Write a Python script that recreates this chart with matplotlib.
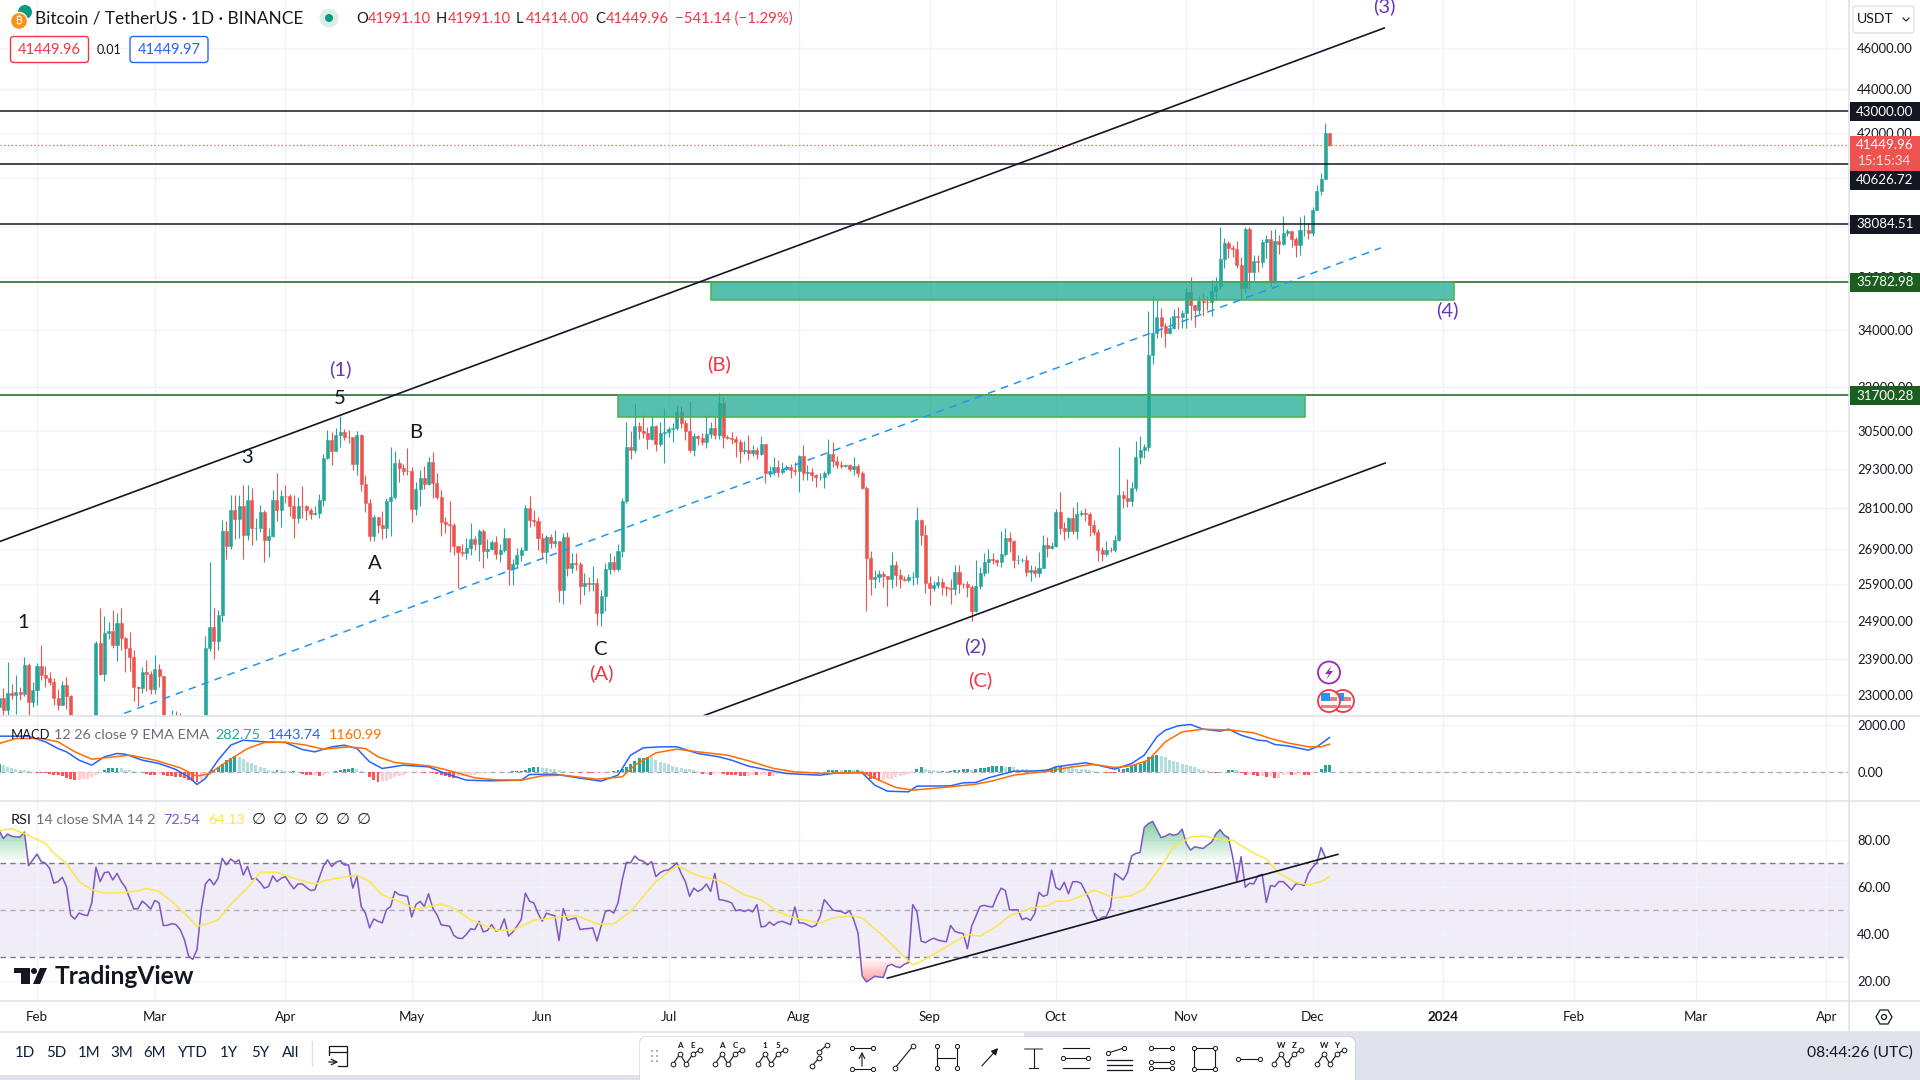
#!/usr/bin/env python3
"""BTC/USDT daily TradingView layout with MACD and RSI panes."""
import matplotlib
matplotlib.use("Agg")
import matplotlib.pyplot as plt
import numpy as np
import pandas as pd
from matplotlib.patches import Circle, FancyBboxPatch, Polygon, Rectangle
from matplotlib.path import Path
from matplotlib.ticker import FixedLocator, FixedFormatter, NullLocator

plt.rcParams["font.family"] = ["Lato", "DejaVu Sans"]

first_date = "2023-01-23"  # first visible candle
origin = pd.Timestamp("2023-02-01")

close = [22917, 22632, 23060, 23009, 23074, 23022, 23742, 22826, 23125,
         23733, 23488, 23431, 23326, 22932, 22762, 23240, 22963, 21796, 21625, 21862, 21783, 21773, 22199,
         24324, 23517, 24569, 24631, 24271, 24837, 24439, 24188, 23947, 23198, 23175, 23561, 23522, 23147,
         23646, 23475, 22362, 22354, 22435, 22409, 22197, 21705, 20363, 20187, 20632, 22163, 24197, 24746,
         24375, 25055, 27423, 26965, 28038, 27767, 28175, 27307, 28333, 27493, 27494, 27994, 27139, 27268,
         28348, 28033, 28478,
         28465, 28171, 27800, 28175, 28165, 28037, 27925, 27947, 28333, 29653, 30235, 29884, 30399, 30485,
         30318, 30315, 29445, 30397, 28822, 28245, 27262, 27817, 27591, 27514, 28307, 28422, 29473, 29340,
         29248, 29233,
         28068, 28669, 29026, 28838, 29506, 28848, 28430, 27668, 27628, 27598, 26968, 26804, 26784, 26930,
         27171, 27036, 27403, 26821, 26890, 27102, 26747, 26851, 27225, 26334, 26476, 26719, 26868, 28085,
         27745, 27702, 27219,
         26819, 27249, 27069, 27115, 25728, 27230, 26339, 26498, 26477, 25841, 25925, 25902, 25918, 25124,
         25578, 26327, 26510, 26336, 26840, 28307, 29994, 29892, 30688, 30527, 30462, 30267, 30693, 30078,
         30447, 30472,
         30585, 30617, 31156, 30767, 30514, 29895, 30348, 30292, 30171, 30414, 30620, 30380, 31454, 30312,
         30289, 30249, 30145, 29856, 29913, 29792, 29908, 29771, 30083, 29176, 29228, 29354, 29212, 29314,
         29352, 29281, 29232,
         29705, 29186, 29193, 29113, 29042, 29042, 29182, 29765, 29561, 29429, 29397, 29415, 29283, 29408,
         29170, 28701, 26622, 26049, 26096, 26189, 26124, 26040, 26431, 26163, 26047, 26004, 26089, 26106,
         27728, 27299, 25940,
         25805, 25869, 25969, 25812, 25779, 25753, 26240, 25905, 25895, 25832, 25162, 25840, 26222, 26522,
         26601, 26568, 26530, 26754, 27211, 27133, 26567, 26579, 26579, 26250, 26298, 26217, 26352, 27021,
         26911, 26967,
         27983, 27505, 27429, 27794, 27410, 27931, 27957, 27918, 27586, 27391, 26875, 26756, 26863, 26853,
         27154, 28500, 28395, 28320, 28713, 29669, 29909, 29992, 33086, 33901, 34496, 34151, 33892, 34082,
         34525, 34474, 34639,
         35421, 34938, 34732, 35082, 35049, 35037, 35443, 35655, 36693, 37313, 37138, 37065, 36462, 35551,
         37880, 36164, 36613, 36568, 37360, 37465, 35814, 37410, 37289, 37720, 37796, 37479, 37254, 37832,
         37858, 37723,
         38682, 39457, 39978, 41991.1, 41449.96]
high = [23165, 23180, 23816, 23282, 23500, 23189, 23960, 23789, 23320,
        23812, 24255, 23715, 23583, 23433, 23158, 23350, 23452, 23011, 21906, 21910, 22090, 21900, 22324,
        24380, 25250, 25021, 24877, 25192, 25121, 25250, 24476, 24600, 24132, 23219, 23689, 23880, 23600,
        24000, 23780, 23476, 22420, 22640, 22600, 22550, 22250, 21800, 20368, 20700, 22196, 24500, 26514,
        25250, 25200, 27750, 27725, 28500, 28500, 28500, 28800, 28800, 28700, 27800, 28200, 28040, 27500,
        28650, 29170, 28650,
        28800, 28530, 28500, 28440, 28775, 28180, 28100, 28150, 28530, 29770, 30550, 30480, 30620, 31000,
        30580, 30550, 30310, 30500, 30410, 29100, 28380, 27890, 27820, 28000, 28400, 30000, 29880, 29600,
        29460, 29980,
        29350, 28880, 29270, 29380, 29680, 29850, 29170, 28650, 27840, 28300, 27650, 26980, 27050, 27200,
        27650, 27280, 27480, 27470, 27180, 27150, 27280, 27050, 27500, 27210, 26600, 26930, 26940, 28200,
        28450, 28050, 27830,
        27350, 27300, 27340, 27450, 27130, 27350, 27400, 26780, 26780, 26530, 26210, 26090, 26420, 26080,
        25750, 26480, 26770, 26680, 27040, 28400, 30800, 30500, 31400, 30800, 31040, 30660, 31000, 30700,
        30820, 31280,
        30660, 30790, 31380, 31330, 30880, 31500, 30450, 30400, 30450, 31050, 30810, 30980, 31800, 31640,
        30390, 30470, 30340, 30240, 30190, 30400, 30050, 29990, 30350, 30100, 29380, 29690, 29570, 29520,
        29410, 29450, 29530,
        29740, 30050, 29430, 29320, 29140, 29170, 29250, 30240, 30150, 29700, 29540, 29440, 29470, 29680,
        29470, 29230, 28780, 26840, 26300, 26300, 26260, 26130, 26800, 26550, 26310, 26120, 26180, 26230,
        28140, 27760, 27580,
        26130, 25980, 26120, 26060, 25860, 26040, 26430, 26430, 25940, 25980, 25880, 26570, 26390, 26770,
        26890, 26770, 26620, 27410, 27490, 27380, 27160, 26720, 26640, 26730, 26430, 26400, 26820, 27300,
        27230, 27090,
        28060, 28580, 27670, 27840, 28130, 28290, 28030, 28100, 27990, 27730, 27480, 26950, 27110, 26960,
        27290, 30000, 28610, 28980, 28900, 30200, 30350, 30100, 34700, 35280, 35130, 34820, 34250, 34480,
        34760, 34860, 34720,
        35580, 35980, 34940, 35260, 35380, 35280, 35890, 35980, 37970, 37530, 37410, 37230, 37420, 36760,
        37980, 37960, 36850, 36850, 37500, 37650, 37860, 37890, 37650, 38420, 37880, 37820, 37580, 38390,
        38450, 38150,
        38800, 39700, 40220, 42420, 41991.1]
low = [22500, 22450, 22300, 22892, 22530, 22877, 22985, 22500, 22714,
       22760, 23365, 23200, 23255, 22750, 22628, 22745, 22665, 21688, 21451, 21599, 21630, 21351, 21532,
       22047, 23505, 23339, 24430, 24192, 23840, 24148, 23574, 23600, 22841, 22722, 23059, 23105, 23020,
       23020, 23195, 22000, 22200, 22190, 22257, 21930, 21580, 20042, 19549, 19950, 20450, 21918, 24100,
       23900, 24123, 24880, 26600, 26900, 27170, 27200, 26600, 27160, 27000, 27160, 27400, 26510, 26650,
       27250, 27700, 27540,
       28250, 27870, 27200, 27660, 27815, 27730, 27780, 27880, 27800, 28170, 29600, 29420, 29870, 30000,
       30230, 30120, 29270, 29100, 28630, 27980, 27120, 27130, 27350, 27190, 27200, 27260, 28380, 28900,
       29100, 29100,
       27680, 27880, 28150, 28680, 28800, 28400, 28380, 27280, 27370, 26800, 26710, 25800, 26690, 26600,
       26720, 26850, 26560, 26360, 26630, 26850, 26620, 26530, 26810, 25870, 25870, 26340, 26550, 26860,
       27525, 27560, 26850,
       26600, 26500, 26920, 26950, 25400, 25350, 26120, 26220, 26300, 25350, 25600, 25720, 25710, 24800,
       24760, 25170, 26180, 26280, 26260, 26650, 28260, 29600, 29810, 30270, 30280, 29920, 30220, 29860,
       30040, 29480,
       30310, 30170, 30560, 30630, 30220, 29850, 29710, 30050, 30070, 29950, 30280, 30250, 30250, 29970,
       30250, 30080, 29670, 29500, 29770, 29570, 29720, 29620, 29740, 28860, 29060, 29100, 29060, 29130,
       29260, 29030, 29110,
       28590, 28950, 28950, 28920, 28750, 28960, 28700, 29120, 29350, 29320, 29320, 29350, 29250, 29100,
       29060, 28680, 25170, 25600, 25800, 25970, 25810, 25300, 25800, 25860, 25780, 25980, 25970, 25870,
       25910, 27020, 25650,
       25340, 25720, 25780, 25600, 25570, 25350, 25610, 25650, 25800, 25550, 24900, 25130, 25770, 26130,
       26220, 26470, 26400, 26380, 26680, 26800, 26350, 26460, 26520, 26120, 25990, 26110, 26110, 26340,
       26660, 26890,
       26950, 27330, 27160, 27210, 27340, 27180, 27860, 27720, 27260, 27300, 26540, 26560, 26700, 26810,
       26800, 27110, 28090, 28130, 28170, 28620, 29470, 29660, 29880, 32800, 33700, 33750, 33400, 33850,
       34050, 34050, 34080,
       34090, 34350, 34100, 34590, 34530, 34730, 34520, 35120, 35530, 36330, 36720, 36760, 36340, 35100,
       35360, 35510, 35880, 36200, 36390, 36730, 35630, 35760, 36870, 37250, 37590, 37150, 36750, 36860,
       37620, 37500,
       37620, 38650, 39290, 39980, 41414]
first_open = 22700

price_ticks = [46000, 44000, 42000, 40000, 38000, 36000, 34000, 32000, 30500, 29300, 28100, 26900, 25900, 24900, 23900, 23000]
resistance = [43000.00, 40626.72, 38084.51]
support = [35782.98, 31700.28]
last_price = 41449.96

# trend lines: day offsets from 1 Feb 2023 and prices at the two ends
upper_days, upper_prices = [-8.8, 320], [27111, 46986]
lower_days, lower_prices = [158.4, 320.2], [22497, 29485]
mid_days, mid_prices = [20.7, 319.2], [22551, 37128]
zone_days = [[138.1, 301.1], [160.1, 336.5]]
zone_prices = [[30970, 31700.28], [35120, 35782.98]]
rsi_line_days, rsi_line_vals = [202, 309], [21, 73.7]

wave_text = ["1", "3", "5", "(1)", "A", "4", "B", "C", "(A)", "(B)", "(2)", "(C)", "(4)", "(3)"]
wave_days = [-3.3, 49.9, 72, 72, 80.3, 80.3, 90, 134, 134, 162, 223, 224, 335, 320]
wave_price = [24857, 29665, 31606, 32600, 26482, 25507, 30473, 24150, 23533, 32777, 24226, 23363, 34730, 48107]
wave_color = ["#131722"] * 3 + ["#673ab7"] + ["#131722"] * 4 + ["#f23645", "#f23645", "#673ab7", "#f23645", "#673ab7", "#673ab7"]

macd_days = [-9, -2, 2, 5, 7, 10, 13, 16, 19, 21, 25, 29, 33, 36, 38, 40, 43, 46, 49, 54, 59, 63, 66, 70, 73, 76, 79,
             82, 87, 93, 97, 102, 108, 115, 117, 123, 128, 134, 138, 141, 144, 148, 152, 157, 162, 165, 169, 173,
             178, 186, 190, 196, 199, 202, 207, 209, 217, 220, 223, 226, 232, 236, 240, 242, 249, 252, 256, 260,
             263, 266, 268, 271, 274, 277, 281, 283, 286, 290, 292, 294, 297, 302, 304, 307]
macd_vals = [1503, 1503, 1262, 978, 836, 482, 269, 624, 766, 737, 482, 340, 85, -227, -553, -298, 482, 1120, 1333,
             1262, 1234, 936, 836, 1049, 1120, 978, 411, 128, 269, 199, -85, -369, -397, -369, -128, -113, -255,
             -411, -156, 695, 1007, 1049, 1049, 766, 624, 482, 227, 85, -85, -156, -57, -57, -581, -837, -865,
             -624, -610, -482, -468, -269, 14, 14, 57, 199, 369, 269, 99, 340, 695, 1475, 1758, 1943, 2000, 1801,
             1716, 1801, 1546, 1333, 1305, 1149, 1092, 908, 1049, 1443.74]
signal_days = [-9, -5, 1, 5, 9, 13, 17, 22, 28, 34, 38, 41, 45, 50, 54, 59, 64, 68, 74, 78, 81, 85, 93, 97, 104, 109,
               115, 120, 125, 133, 139, 142, 147, 152, 157, 164, 169, 175, 180, 187, 196, 200, 204, 208, 217, 223,
               227, 232, 240, 246, 251, 256, 260, 264, 268, 272, 277, 284, 289, 293, 297, 302, 305, 307]
signal_vals = [1191, 1404, 1404, 1262, 837, 525, 596, 695, 482, 156, -199, -85, 411, 978, 1234, 1248, 1120, 950, 1049,
               978, 624, 383, 241, 85, -269, -355, -369, -184, -156, -326, -227, 269, 794, 950, 837, 695, 454, 128,
               -14, -85, -28, -369, -681, -794, -652, -539, -397, -156, 14, 199, 298, 170, 241, 482, 1262, 1687, 1801,
               1758, 1645, 1404, 1220, 1049, 1049, 1160.99]
macd_hist = [310, 280, 210, 155, 110, 85, 55, 30,
             -30, -45, -50, -60, -95, -140, -170, -210, -280, -340, -365, -350, -340, -300, -240, -160, -60,
             60, 130, 150, 155, 140, 80, 50, 25, -15, -40, -110, -150, -170, -90, -130, -185, -200, -220, -250,
             -270, -350, -420, -440, -370, -270, -130, 60, 200, 340, 480, 580, 680, 610, 520, 400, 350, 260, 190,
             130, 60, 30, 60, 50, 40, 10, 10, -30, -90, -140, -170, -170, -180, -140, -50, -10, 20, 50, 90, 120,
             150, 100, 40, -30, -250, -370, -430, -410, -400, -310, -250, -190, -130, -60, -20, -30, -40, -50, -40,
             -60, -110, -140, -190, -220, -280, -220, -200, -190, -160, -130, -110, -80, -60, -40, -30, -20, -10,
             -20, 10, 30, 30, 80, 160, 180, 200, 170, 140, 120, 100, 60, 30, -20, -30, -30, -50, -40, -60, -80, -80,
             -70, -40, -10, 30, 50, 110, 180, 300, 430, 560, 590, 620, 600, 490, 410, 370, 300, 240, 190, 160, 120,
             90, 60, 30, -120, -100, -140, -110, -70, -120, -140, -150, -170, -190, -200, -200, -140, -170, -170,
             -150, -190, -190, -110, -100, -70, -70, -50, -40, -30, -30, -20, -15, -15, -10, 50, 70, 70, 60, 60, 65,
             50, 60, 40, -110, -300, -340, -400, -380, -330, -300, -250, -210, -160, -100, -50, 110, 190, 90, 60, 50,
             30, 40, 30, 30, 50, 70, 90, 90, 60, 110, 130, 170, 190, 220, 230, 230, 210, 210, 180, 120, 110, 100, 60,
             30, 20, 50, 90, 120, 190, 220, 190, 170, 160, 120, 100, 90, 60, 20, -20, -40, -60, -70, -80, 90, 120,
             170, 220, 270, 300, 450, 620, 680, 700, 650, 600, 510, 450, 400, 320, 280, 240, 180, 90, 60, 20, -40,
             -50, -40, -5, 60, 70, 50, -60, -130, -100, -170, -210, -210, -250, -210, -270, -270, -170, -110, -140,
             -140, -110, -130, -140, -50, -10, 110, 280, 282.75]

rsi_vals = [83.9, 80.4, 82.3, 81.4, 81.1, 81.1, 83.2, 68.9, 71.3, 73.8, 70.6, 69.9, 67.7, 61.4, 62.1, 63.9, 60, 47.7,
            46.2, 48.7, 48, 47.6, 53, 68.2, 62.1, 65.9, 66.2, 62.8, 65.6, 62.1, 59.7, 55.1, 50.4, 50.6, 53.8, 52.3,
            50.4, 54.1, 53, 43.4, 43.5, 44.2, 43.8, 41.7, 37.5, 30.4, 29, 33.2, 50.1, 61.1, 63.2, 60.7, 63.5, 72,
            69.2, 71.7, 70.3, 71.3, 64.9, 68.5, 63.1, 63.5, 61.7, 59.3, 60, 64.5, 62.1, 63.5, 64.2, 61.4, 59, 61.1,
            61.1, 59.6, 58.3, 58.6, 63.5, 68.5, 71.3, 68.5, 70.3, 71, 69.2, 69.2, 59.3, 64.2, 51.5, 48.7, 42.4, 46.2,
            45.2, 44.5, 50.1, 51.5, 57.9, 56.5, 56.2, 55.8, 47, 52.3, 53.7, 51.5, 56.9, 50.8, 48, 43.7, 43.4, 43.1,
            39.2, 38, 37.9, 39.6, 42, 41.7, 45.2, 40.7, 41.3, 43.8, 41, 41.7, 46.3, 38.9, 40.6, 43.1, 45.9, 57.2, 53.7,
            53, 48.7, 45.2, 48.7, 48, 47.6, 37, 50.6, 45.6, 46.2, 46.6, 41.7, 42, 42.1, 42.4, 36.8, 43.1, 49.4, 49.9,
            48.7, 53, 62.8, 70.3, 70.1, 73, 71.3, 70.8, 69.2, 70.6, 64.2, 65.9, 66.8, 67, 68.5, 70.1, 65.6, 62.1, 55.8,
            59.3,
            57.9, 58.9, 61.1, 57.9, 65.6, 54.4, 54.2, 53.7, 53, 49.7, 50.1, 49.4, 50.1, 49.2, 52.3, 42.8, 43.1, 44.9,
            43.5, 44.8, 45.2, 44.5, 43.8, 51.3, 44.5, 44.5, 43.7, 42.8, 43.4, 47.3, 54.4, 52.3, 50, 49.6, 49.4, 48.5,
            49.7, 45.9, 40.3, 22, 19.4, 20.6, 21.8, 21.5, 21.3, 26.2, 26.9, 25.9, 25.5, 26.9, 27.6, 52.3, 49.4, 36.8,
            36.1, 37.2, 38, 37.2, 36.8, 36.5, 43.4, 41, 40.3, 40, 33.5, 43.1, 47.3, 51.5, 52, 51.5, 51.3, 55.8, 59.3,
            58.3, 50.1, 50.1, 50.1, 45.9, 46.6, 45.6, 48.5, 57.5, 55.8, 56.5, 67, 59.6, 58.6, 61.8, 56.9, 62, 62.1,
            61.4, 57.9, 54.4, 48.7, 45.6, 46.9, 47.3, 51.3, 65.6, 64.2, 62.8, 65.9, 73, 74.1, 74.5, 85.1, 86.8, 87.7,
            84.2, 80.8, 81.4, 82.4, 81.8, 82.3, 84.4, 78.3, 75.5, 76.9, 76.5, 76.2, 77.6, 78.9, 82.3, 84.2, 81.8, 80.8,
            72.7, 62.1, 72.7, 59.7, 61.4, 61.1, 64.5, 65.2, 53.2, 60.4, 60, 62.1, 62.1, 60.4, 58.6, 61.1, 61.1, 60.4,
            65.6, 68.2, 70.1, 76.6, 72.54]
rsi_ma_days = [-9, -6, -3, 0, 2, 4, 7, 10, 13, 16, 21, 24, 26, 29, 32, 35, 38, 41, 43, 46, 50, 53, 57, 61, 66, 69, 76,
               79, 82, 86, 90, 96, 99, 103, 109, 113, 118, 124, 128, 133, 137, 141, 147, 152, 157, 162, 164, 168, 172,
               176, 180, 186, 189, 194, 196, 201, 208, 209, 213, 217, 221, 224, 228, 231, 236, 240, 242, 245, 249,
               251, 256, 260, 263, 267, 270, 274, 277, 282, 284, 289, 292, 295, 299, 302, 305, 307]
rsi_ma_vals = [83.7, 84.6, 82.5, 80, 78.3, 74.1, 69.9, 62.1, 58.6, 57.2, 57.5, 58.2, 59.2, 57.9, 53.7, 48.7, 43.1, 44.5,
               45.9, 52.3, 59.3, 66.1, 66.1, 63.5, 61, 62.8, 64.9, 62.1, 56.5, 53.7, 50.4, 52.5, 50.8, 45.9, 41.4, 41.4,
               45.6, 47, 47.7, 44.1, 44.1, 49.4, 62.1, 68.9, 64.6, 62.5, 60.7, 56.5, 54.4, 49.2, 46.6, 44.5, 46.6, 47.6,
               46.6, 38.9, 26.6, 27.3, 31.1, 35.4, 39.6, 38.9, 43.1, 47.6, 50.8, 51.8, 53.7, 53.9, 56.5, 58.5, 55.1,
               56.1, 59, 68.5, 76.9, 81.1, 81.5, 79.7, 79.7, 74.1, 71.7, 65.6, 61.7, 60.7, 62.1, 64.13]

month_starts = ["2023-02-01", "2023-03-01", "2023-04-01", "2023-05-01", "2023-06-01", "2023-07-01", "2023-08-01",
                "2023-09-01", "2023-10-01", "2023-11-01", "2023-12-01", "2024-01-01", "2024-02-01", "2024-03-01",
                "2024-04-01"]
month_labels = ["Feb", "Mar", "Apr", "May", "Jun", "Jul", "Aug", "Sep", "Oct", "Nov", "Dec", "2024", "Feb", "Mar", "Apr"]
range_buttons = ["1D", "5D", "1M", "3M", "6M", "YTD", "1Y", "5Y", "All"]

INK = "#131722"
UP, DOWN = "#26a69a", "#ef5350"
GRID, EDGE = "#f0f3fa", "#e0e3eb"
YELLOW = "#fbe74a"
W, H = 1920, 1080
PLOT_R = 1849
XLIM = (-8.79, 430.4)

fig = plt.figure(figsize=(W / 100, H / 100), dpi=100, facecolor="white")


def pane(top, bottom):
    ax = fig.add_axes([0, 1 - bottom / H, PLOT_R / W, (bottom - top) / H])
    ax.set_xlim(*XLIM)
    for s in ax.spines.values():
        s.set_visible(False)
    ax.tick_params(length=0, labelsize=9.4, labelcolor=INK, pad=6)
    ax.yaxis.tick_right()
    ax.set_axisbelow(True)
    month_x = (pd.to_datetime(month_starts) - origin).days.values
    ax.set_xticks(month_x)
    ax.set_xticklabels([])
    ax.grid(True, color=GRID, lw=1)
    return ax


# price pane
ax = pane(0, 715.5)
ax.set_yscale("log")
ax.set_ylim(22500, 48418)
ax.yaxis.set_major_locator(FixedLocator(price_ticks))
ax.yaxis.set_major_formatter(FixedFormatter([f"{p:.2f}" for p in price_ticks]))
ax.yaxis.set_minor_locator(NullLocator())

n = len(close)
offset = (pd.Timestamp(first_date) - origin).days
days = np.arange(offset, offset + n)
c = np.array(close, float)
o = np.r_[first_open, c[:-1]]
hi = np.array(high, float)
lo = np.array(low, float)
colors = np.where(c >= o, UP, DOWN)
ax.vlines(days, lo, hi, colors=colors, lw=0.8, zorder=2)
ax.bar(days, np.abs(c - o), bottom=np.minimum(o, c), width=0.72, color=colors, edgecolor=colors, lw=0.4, zorder=3)

for (d0, d1), (p0, p1) in zip(zone_days, zone_prices):
    ax.add_patch(Rectangle((d0, p0), d1 - d0, p1 - p0, facecolor="#22ab94", alpha=0.76, edgecolor="none", zorder=4))
    ax.add_patch(Rectangle((d0, p0), d1 - d0, p1 - p0, facecolor="none", edgecolor="#4caf50", lw=1.1, zorder=5))
for p in resistance:
    ax.axhline(p, color=INK, lw=1.1, zorder=4)
for p in support:
    ax.axhline(p, color="#1b5e20", lw=1.1, zorder=3.5)
ax.axhline(last_price, color=DOWN, lw=0.9, ls=(0, (1, 2)), zorder=4)
ax.plot(upper_days, upper_prices, color=INK, lw=1.2, zorder=5)
ax.plot(lower_days, lower_prices, color=INK, lw=1.2, zorder=5)
ax.plot(mid_days, mid_prices, color="#2196f3", lw=1.1, ls=(0, (5, 4)), zorder=5)
for s, d, p, col in zip(wave_text, wave_days, wave_price, wave_color):
    ax.text(d, p, s, color=col, fontsize=14.6, ha="center", va="center", zorder=6, clip_on=False)

# MACD pane
ax_m = pane(715.5, 800.5)
ax_m.set_ylim(-1234, 2383)
ax_m.set_yticks([2000, 0])
ax_m.set_yticklabels(["2000.00", "0.00"])
ax_m.axhline(0, color="#787b86", lw=0.9, ls=(0, (4, 3)), alpha=0.6, zorder=1)
h = np.array(macd_hist, float)
hd = np.arange(offset, offset + len(h))
prev = np.r_[h[0], h[:-1]]
hc = np.where(h >= 0, np.where(h >= prev, "#26a69a", "#b2dfdb"), np.where(h < prev, "#ff5252", "#ffcdd2"))
ax_m.bar(hd, h, width=0.7, color=hc, zorder=2)
ax_m.plot(macd_days, macd_vals, color="#2962ff", lw=1.1, zorder=3)
ax_m.plot(signal_days, signal_vals, color="#ff6d00", lw=1.1, zorder=3)

# RSI pane
ax_r = pane(800.5, 1000.5)
ax_r.set_ylim(11.5, 96.6)
ax_r.set_yticks([80, 60, 40, 20])
ax_r.set_yticklabels(["80.00", "60.00", "40.00", "20.00"])
ax_r.axhspan(30, 70, facecolor="#7e57c2", alpha=0.11, lw=0, zorder=0.5)
for lvl, a in [(70, 1.0), (50, 0.55), (30, 1.0)]:
    ax_r.axhline(lvl, color="#787b86", lw=1, ls=(0, (4, 3)), alpha=a, zorder=1)
rsi = np.array(rsi_vals, float)
rd = np.arange(offset, offset + len(rsi))
fine_x = np.linspace(rd[0], rd[-1], 4000)
fine_y = np.interp(fine_x, rd, rsi)


def gradient_fill(y_far, y_near, rgb, mask):
    # colour fades from y_far to y_near and is cut to the area between level and RSI line
    grad = np.zeros((64, 2, 4))
    grad[..., :3] = rgb
    grad[..., 3] = np.linspace(0.55, 0.0, 64)[:, None]
    im = ax_r.imshow(grad, extent=[XLIM[0], XLIM[1], min(y_far, y_near), max(y_far, y_near)],
                     origin="upper" if y_far > y_near else "lower", aspect="auto", zorder=1.5)
    poly = ax_r.fill_between(fine_x, y_near, fine_y, where=mask, facecolor="none", lw=0)
    im.set_clip_path(Path.make_compound_path(*poly.get_paths()), transform=ax_r.transData)


gradient_fill(88, 70, (0.1, 0.65, 0.3), fine_y > 70)
gradient_fill(19, 30, (1.0, 0.3, 0.3), fine_y < 30)
ax_r.set_xlim(*XLIM)
ax_r.set_ylim(11.5, 96.6)
ax_r.plot(rd, rsi, color="#7e57c2", lw=1.1, zorder=3)
ax_r.plot(rsi_ma_days, rsi_ma_vals, color=YELLOW, lw=1.1, zorder=3)
ax_r.plot(rsi_line_days, rsi_line_vals, color=INK, lw=1.2, zorder=4)
ax_r.set_xticklabels(month_labels)
ax_r.tick_params(axis="x", pad=7.5, labelsize=9.6)
ax_r.get_xticklabels()[11].set_fontweight("bold")

# interface overlay, in screen pixels
ov = fig.add_axes([0, 0, 1, 1], zorder=10)
ov.set_xlim(0, W)
ov.set_ylim(H, 0)
ov.axis("off")


def txt(x, y, s, color=INK, px=13, ha="left", weight="normal"):
    ov.text(x, y, s, color=color, fontsize=px * 0.72, ha=ha, va="center", fontweight=weight)


def box(x0, y0, x1, y1, **kw):
    ov.add_patch(Rectangle((x0, y0), x1 - x0, y1 - y0, **kw))


for y in (715.5, 800.5, 1000.5, 1031.5):
    ov.plot([0, W], [y, y], color=EDGE, lw=1.2)
ov.plot([PLOT_R, PLOT_R], [0, 1031], color=EDGE, lw=1.2)

# price tags on the scale
for top, bot, s, col in [(102, 121, "43000.00", INK), (171, 190, "40626.72", INK), (215, 234, "38084.51", INK),
                         (273, 292, "35782.98", "#1b5e20"), (386, 405, "31700.28", "#1b5e20")]:
    box(1850, top, W, bot, facecolor=col, edgecolor="none")
    txt(1885, (top + bot) / 2, s, "white", 13.4, "center")
box(1850, 136, W, 170.5, facecolor=DOWN, edgecolor="none")
txt(1885, 145, "41449.96", "white", 13.4, "center")
txt(1885, 161, "15:15:34", "#ffe0e0", 13.4, "center")
ov.add_patch(FancyBboxPatch((1853, 6), 61, 27, boxstyle="round,pad=0,rounding_size=3", facecolor="white", edgecolor=EDGE, lw=1))
txt(1857, 19, "USDT", INK, 14)
ov.plot([1903, 1906, 1909], [18, 21, 18], color=INK, lw=0.8)

# symbol header
ov.add_patch(Circle((25, 12), 7, facecolor="#089981", edgecolor="none"))
ov.add_patch(Circle((19, 21), 8.5, facecolor="#f7931a", edgecolor="white", lw=1))
ov.text(19, 21.5, "₿", color="white", fontsize=7.5, ha="center", va="center",
        family=["Inter", "Noto Sans", "Roboto", "Open Sans", "DejaVu Sans"])
txt(35, 18, "Bitcoin / TetherUS · 1D · BINANCE", INK, 17.2)
ov.add_patch(Circle((329, 18), 9.5, facecolor="#daeeea", edgecolor="none"))
ov.add_patch(Circle((329, 18), 4, facecolor="#089981", edgecolor="none"))
for x, s, col in [(356, "O", INK), (368, "41991.10", "#f23645"), (436, "H", INK), (448, "41991.10", "#f23645"),
                  (516, "L", INK), (526, "41414.00", "#f23645"), (595, "C", INK), (606, "41449.96", "#f23645")]:
    txt(x, 19, s, col, 14.8)
txt(675, 19, "−541.14 (−1.29%)", "#f23645", 15)
ov.add_patch(FancyBboxPatch((10.5, 36.5), 78, 26, boxstyle="round,pad=0,rounding_size=3", facecolor="white", edgecolor="#f23645", lw=1))
txt(49.5, 49.5, "41449.96", "#f23645", 14.8, "center")
txt(109, 50, "0.01", INK, 12.5, "center")
ov.add_patch(FancyBboxPatch((130, 36.5), 78, 26, boxstyle="round,pad=0,rounding_size=3", facecolor="white", edgecolor="#2962ff", lw=1))
txt(169, 49.5, "41449.97", "#2962ff", 14.8, "center")

# pane legends
txt(11, 735, "MACD", INK, 13)
txt(54, 735, "12 26 close 9 EMA EMA", "#6a6d78", 14.4)
txt(215, 735, "282.75", "#26a69a", 14.4)
txt(268, 735, "1443.74", "#2962ff", 14.4)
txt(329, 735, "1160.99", "#ff6d00", 14.4)
txt(11, 820, "RSI", INK, 14.4)
txt(36, 820, "14 close SMA 14 2", "#6a6d78", 14.4)
txt(163, 820, "72.54", "#7e57c2", 14.4)
txt(208, 820, "64.13", YELLOW, 14.4)
for x in (259, 280, 301, 322, 343, 364):
    txt(x, 820, "∅", INK, 16, "center")

# watermark
box(14, 968, 30, 973, facecolor=INK, edgecolor="none")
box(21, 968, 30, 984, facecolor=INK, edgecolor="none")
ov.add_patch(Circle((34, 971), 3, facecolor=INK, edgecolor="none"))
ov.add_patch(Polygon([[40, 968], [47, 968], [40, 984], [33, 984]], facecolor=INK, edgecolor="none"))
txt(55, 976, "TradingView", INK, 24.6, weight="bold")

# event markers
ov.add_patch(Circle((1329, 672.5), 11, facecolor="white", edgecolor="#9c27b0", lw=1.3))
ov.add_patch(Polygon([[1332, 665], [1325, 674], [1329, 674], [1326, 680], [1333, 671], [1329, 671]], facecolor="#9c27b0", edgecolor="none"))
for cx in (1343, 1329):
    ov.add_patch(Circle((cx, 701), 11, facecolor="white", edgecolor="#f23645", lw=1.3))
    box(cx - 8, 697, cx + 8, 701, facecolor="#f77c80", edgecolor="none")
    box(cx - 8, 705, cx + 8, 708, facecolor="#f77c80", edgecolor="none")
    box(cx - 8, 693, cx + 1, 701, facecolor="#2196f3", edgecolor="none")

# bottom bars
box(0, 1032, W, H, facecolor="#e0e3eb", edgecolor="none")
box(0, 1032, 1024, 1075, facecolor="white", edgecolor="none")
for x, s in zip((25, 56, 89, 122, 155, 193, 229, 260, 291), range_buttons):
    txt(x, 1053, s, "#0b1f3a", 15, "center")
ov.plot([312, 312], [1041, 1066], color=EDGE, lw=1)
ov.add_patch(Rectangle((329, 1046), 18, 20, facecolor="none", edgecolor=INK, lw=0.9))
ov.plot([329, 347], [1052, 1052], color=INK, lw=0.9)
box(326, 1056, 338, 1068, facecolor="white", edgecolor="none")
ov.annotate("", (341, 1062), (326, 1062), arrowprops=dict(arrowstyle="->", color=INK, lw=0.9))
txt(1860, 1053, "08:44:26 (UTC)", INK, 15.6, "center")
ov.add_patch(Polygon([[1876, 1017], [1880, 1010], [1888, 1010], [1892, 1017], [1888, 1024], [1880, 1024]], facecolor="white", edgecolor=INK, lw=0.9))
ov.add_patch(Circle((1884, 1017), 2.5, facecolor="white", edgecolor=INK, lw=0.9))

# drawing toolbar
ov.add_patch(FancyBboxPatch((639, 1036), 717, 60, boxstyle="round,pad=0,rounding_size=7", facecolor="#c8ccd6", edgecolor="none", alpha=0.5))
ov.add_patch(FancyBboxPatch((640, 1037), 715, 60, boxstyle="round,pad=0,rounding_size=7", facecolor="white", edgecolor="none"))
for x in (651, 656):
    for y in (1050, 1055, 1060):
        box(x, y, x + 2, y + 2, facecolor="#b2b5be", edgecolor="none")


def nodes(xs, ys, ms=3.4):
    ov.plot(xs, ys, "-o", color=INK, lw=0.8, ms=ms, mfc="white", mew=0.7)


def wave_icon(cx, a, b):
    nodes([cx - 15, cx - 8, cx - 2, cx + 5, cx + 12], [1064, 1054, 1064, 1054, 1050])
    txt(cx - 8, 1045, a, INK, 8, "center", "bold")
    txt(cx + 5, 1045, b, INK, 8, "center", "bold")


for cx, a, b in [(688, "A", "E"), (730, "A", "C"), (773, "1", "5"), (1289, "W", "Z"), (1332, "W", "Y")]:
    wave_icon(cx, a, b)
nodes([812, 819], [1066, 1058])
nodes([819, 827], [1052, 1045])
nodes([852, 873], [1069, 1069], 3)
nodes([852, 873], [1048, 1048], 3)
ov.annotate("", (862, 1049), (862, 1069), arrowprops=dict(arrowstyle="->", color=INK, lw=0.8))
nodes([895, 913], [1068, 1046])
nodes([937, 937], [1046, 1068], 3)
ov.plot([937, 955], [1058, 1058], color=INK, lw=0.8)
nodes([957, 957], [1046, 1068], 3)
ov.annotate("", (1000, 1046), (980, 1068), arrowprops=dict(arrowstyle="-|>", color=INK, lw=0.8))
ov.plot([1025, 1042], [1049, 1049], color="#787b86", lw=1.2)
ov.plot([1033.5, 1033.5], [1049, 1068], color=INK, lw=0.8)
ov.plot([1029, 1038], [1068, 1068], color=INK, lw=0.8)
for y in (1048, 1068):
    ov.plot([1063, 1089], [y, y], color=INK, lw=0.8)
nodes([1063, 1088], [1058, 1058], 3)
nodes([1108, 1124], [1053, 1048], 3)
for y in (1060, 1065, 1070):
    ov.plot([1107, 1132], [y, y], color=INK, lw=0.9)
nodes([1151, 1172], [1048, 1048], 3)
nodes([1151, 1172], [1062, 1062], 3)
nodes([1151, 1172], [1068, 1068], 3)
ov.add_patch(Rectangle((1194, 1048), 21, 21, facecolor="none", edgecolor=INK, lw=0.8))
for x in (1194, 1215):
    for y in (1048, 1069):
        nodes([x], [y], 3)
nodes([1238, 1260], [1059, 1059], 3)

fig.savefig("out.png", dpi=100)
